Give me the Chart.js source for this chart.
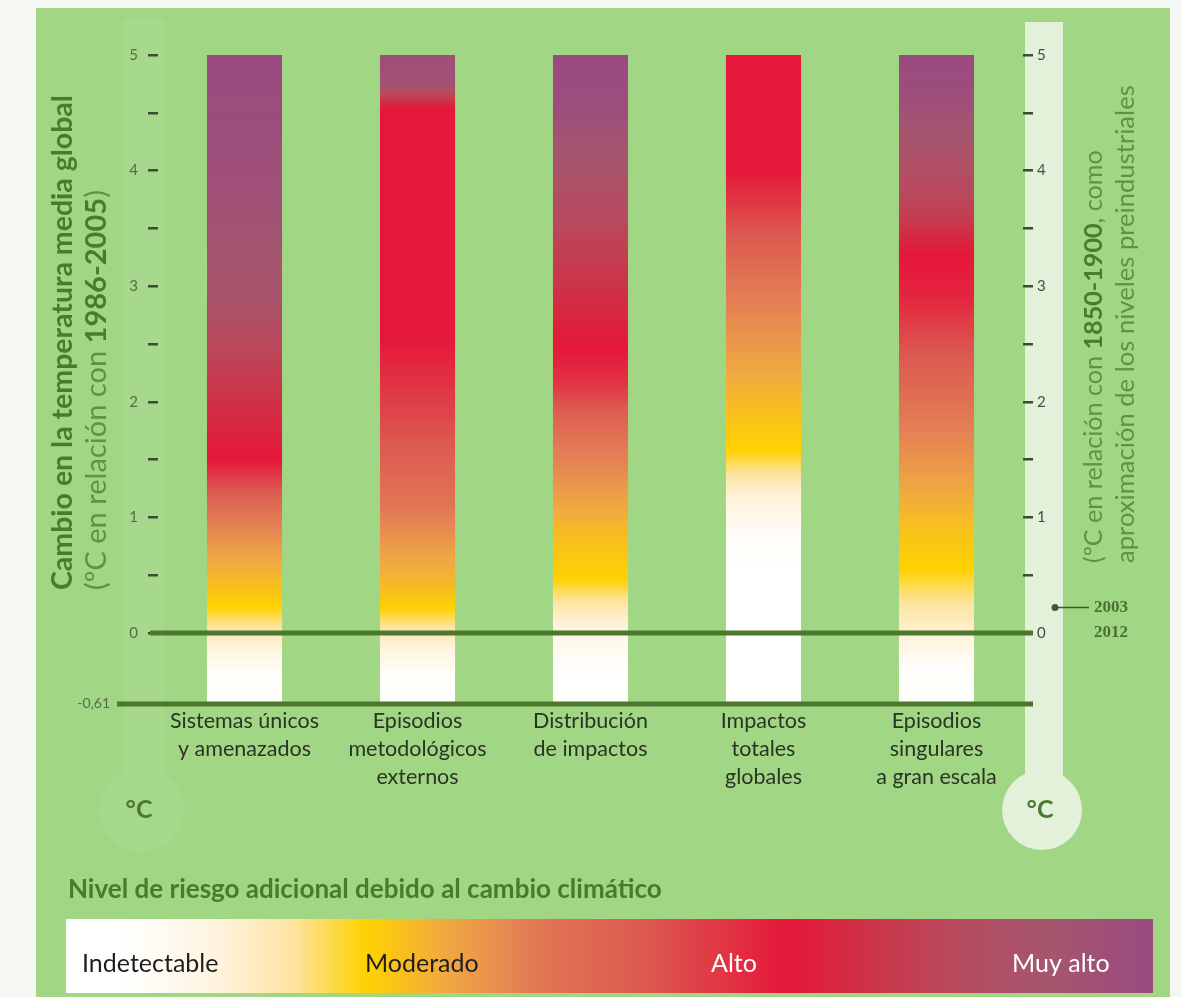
<!DOCTYPE html>
<html><head><meta charset="utf-8">
<script src="https://cdn.jsdelivr.net/npm/chart.js@4.4.0/dist/chart.umd.min.js"></script>
<style>html,body{margin:0;padding:0;background:#f5f7f2;}canvas{display:block;}</style>
</head><body>
<canvas id="c" width="1182" height="997"></canvas>
<script>
// ---------- data ----------
const categories = [
  ['Sistemas únicos', 'y amenazados'],
  ['Episodios', 'metodológicos', 'externos'],
  ['Distribución', 'de impactos'],
  ['Impactos', 'totales', 'globales'],
  ['Episodios', 'singulares', 'a gran escala']
];
const barBottom = [-0.61, -0.61, -0.61, -0.61, -0.61];
const barTop = [5, 5, 5, 5, 5];
const yTickValues = [0, 0.5, 1, 1.5, 2, 2.5, 3, 3.5, 4, 4.5, 5];
const referenceLines = [0, -0.61];
const referenceLabel = '-0,61';
const observedYears = ['2003', '2012'];
const observedValue = 0.22;
const riskLevelNames = ['Indetectable', 'Moderado', 'Alto', 'Muy alto'];
// risk level (0 indetectable .. 3 muy alto) at temperature change (°C)
const riskSistemas = [[-0.61,0],[-0.35,0.05],[0,0.6],[0.22,1],[0.69,1.3],[1.06,1.6],[1.5,2],[2.17,2.3],[2.9,2.7],[4.0,2.9],[5,3]];
const riskMetodologicos = [[-0.61,0],[-0.35,0.05],[0,0.6],[0.21,1],[0.4,1.15],[0.69,1.3],[1.06,1.55],[1.62,1.75],[2.17,1.9],[2.54,2],[4.54,2],[4.76,2.85],[5,2.9]];
const riskDistribucion = [[-0.61,0],[-0.3,0.02],[0,0.3],[0.21,0.6],[0.47,1],[0.88,1.15],[1.25,1.35],[1.8,1.65],[2.17,1.9],[2.47,2],[2.91,2.2],[3.47,2.45],[4.02,2.7],[4.6,2.95],[5,3]];
const riskTotales = [[-0.61,0],[0.51,0],[0.88,0.1],[1.25,0.5],[1.58,1],[1.99,1.15],[2.36,1.3],[2.62,1.4],[3.1,1.6],[3.65,1.85],[4.0,2],[5,2]];
const riskSingulares = [[-0.61,0],[-0.3,0.05],[0,0.45],[0.21,0.65],[0.55,1],[0.88,1.1],[1.43,1.35],[1.99,1.6],[2.54,1.8],[2.91,1.95],[3.28,2],[3.65,2.4],[4.2,2.7],[4.76,2.95],[5,3]];
const riskProfiles = [riskSistemas, riskMetodologicos, riskDistribucion, riskTotales, riskSingulares];
// legend: fraction along bar -> risk level
const legendRamp = [[0,0],[0.06,0.02],[0.275,1],[0.45,1.6],[0.665,2],[0.85,2.6],[1,3]];

// ---------- styling ----------
const FONT = 'Lato, "Open Sans", sans-serif';
const DARKGREEN = '#4a7a2b';
const palette = [[0,'#ffffff'],[0.4,'#fef3dc'],[0.7,'#fde3a0'],[1,'#ffd200'],[1.25,'#f0aa40'],[1.5,'#e48055'],[1.75,'#dc5a50'],[2,'#e5173a'],[2.25,'#cc3448'],[2.5,'#b84a5e'],[2.75,'#a5566e'],[3,'#9a4a80']];

function hex(h){return [parseInt(h.slice(1,3),16),parseInt(h.slice(3,5),16),parseInt(h.slice(5,7),16)];}
function interp(pairs, x){
  if (x <= pairs[0][0]) return pairs[0][1];
  for (let i=1;i<pairs.length;i++){
    if (x <= pairs[i][0]){const [x0,y0]=pairs[i-1],[x1,y1]=pairs[i];return y0+(y1-y0)*(x-x0)/(x1-x0);}
  }
  return pairs[pairs.length-1][1];
}
function riskColor(l){
  for (let i=1;i<palette.length;i++){
    if (l <= palette[i][0] || i===palette.length-1){
      const a=hex(palette[i-1][1]), b=hex(palette[i][1]);
      const t=Math.max(0,Math.min(1,(l-palette[i-1][0])/(palette[i][0]-palette[i-1][0])));
      return 'rgb('+a.map((v,k)=>Math.round(v+(b[k]-v)*t)).join(',')+')';
    }
  }
}

function barGradient(ctx){
  const chart = ctx.chart;
  if (!chart.chartArea) return '#ffffff';
  const y = chart.scales.y;
  const i = ctx.dataIndex;
  const lo = barBottom[i], hi = barTop[i];
  const pLo = y.getPixelForValue(lo), pHi = y.getPixelForValue(hi);
  const g = chart.ctx.createLinearGradient(0, pLo, 0, pHi);
  const prof = riskProfiles[i];
  const n = 120;
  for (let k=0;k<=n;k++){
    const t = lo + (hi-lo)*k/n;
    g.addColorStop(k/n, riskColor(interp(prof, t)));
  }
  return g;
}

function drawRich(ctx, x, y, segs, size, rotate){
  ctx.save();
  ctx.translate(x, y);
  if (rotate) ctx.rotate(-Math.PI/2);
  ctx.textAlign = 'left'; ctx.textBaseline = 'middle';
  let cx = 0;
  for (const s of segs){
    ctx.font = (s.bold?'bold ':'') + size + 'px ' + FONT;
    ctx.fillStyle = s.color;
    ctx.fillText(s.text, cx, 0);
    cx += ctx.measureText(s.text).width;
  }
  ctx.restore();
}
function fitSize(ctx, segs, target, base){
  let w = 0;
  for (const s of segs){ctx.font=(s.bold?'bold ':'')+base+'px '+FONT; w+=ctx.measureText(s.text).width;}
  return base*target/w;
}

const decorations = {
  id: 'decorations',
  beforeDraw(chart){
    const c = chart.ctx;
    c.save();
    c.fillStyle = '#f5f7f2'; c.fillRect(0,0,1182,997);
    c.fillStyle = '#a1d784'; c.fillRect(36,8,1134,989);
    // left thermometer (faint)
    c.beginPath();
    c.rect(123,20,42,760);
    c.moveTo(184,810); c.arc(142,810,42,0,Math.PI*2);
    c.fillStyle = 'rgba(255,255,255,0.07)'; c.fill('nonzero');
    // right thermometer
    c.beginPath();
    c.rect(1025,22,38,770);
    c.moveTo(1082,810); c.arc(1042,810,40,0,Math.PI*2);
    c.fillStyle = '#e3f0da'; c.fill('nonzero');
    c.font = 'bold 25px ' + FONT; c.fillStyle = DARKGREEN; c.textAlign='center'; c.textBaseline='middle';
    c.fillText('°C', 139, 810);
    c.fillText('°C', 1040, 810);
    c.restore();
  },
  afterDraw(chart){
    const c = chart.ctx, y = chart.scales.y, y2 = chart.scales.y2;
    c.save();
    // reference lines
    c.strokeStyle = '#4b782c'; c.lineWidth = 5; c.lineCap='butt';
    referenceLines.forEach((v, k) => {
      const py = Math.round(y.getPixelForValue(v));
      c.beginPath(); c.moveTo(k===0?150:117, py); c.lineTo(1033, py); c.stroke();
    });
    c.font = '14px ' + FONT; c.fillStyle = '#556b4a'; c.textAlign='right'; c.textBaseline='middle';
    c.fillText(referenceLabel, 110, y.getPixelForValue(referenceLines[1]));
    // observed 2003-2012
    const oy = y2.getPixelForValue(observedValue);
    c.fillStyle = '#3f5a2e'; c.strokeStyle = '#3f5a2e'; c.lineWidth = 1.5;
    c.beginPath(); c.arc(1055, oy, 3.5, 0, Math.PI*2); c.fill();
    c.beginPath(); c.moveTo(1055, oy); c.lineTo(1089, oy); c.stroke();
    c.font = 'bold 17px "Liberation Serif", serif'; c.fillStyle = '#4a7030'; c.textAlign='left';
    c.fillText(observedYears[0], 1094, oy);
    c.fillText(observedYears[1], 1094, y2.getPixelForValue(0));
    // axis titles
    const g1 = '#4a7d2a', g2 = '#5e9342';
    const L1 = [{text:'Cambio en la temperatura media global', bold:true, color:g1}];
    const L2 = [{text:'(ºC en relación con ', color:g2},{text:'1986-2005', bold:true, color:g1},{text:')', color:g2}];
    const R1 = [{text:'(ºC en relación con ', color:g2},{text:'1850-1900', bold:true, color:g1},{text:', como', color:g2}];
    const R2 = [{text:'aproximación de los niveles preindustriales', color:g2}];
    drawRich(c, 63, 590, L1, fitSize(c, L1, 495, 20), true);
    drawRich(c, 97, 590, L2, fitSize(c, L2, 400, 20), true);
    drawRich(c, 1094, 563, R1, fitSize(c, R1, 413, 20), true);
    drawRich(c, 1126, 563, R2, fitSize(c, R2, 478, 20), true);
    // legend
    const LT = [{text:'Nivel de riesgo adicional debido al cambio climático', bold:true, color:'#4a7a2b'}];
    drawRich(c, 68, 890, LT, fitSize(c, LT, 594, 20), false);
    const lx0 = 66, lx1 = 1153, ly0 = 919, ly1 = 993;
    const lg = c.createLinearGradient(lx0, 0, lx1, 0);
    for (let k=0;k<=100;k++){ lg.addColorStop(k/100, riskColor(interp(legendRamp, k/100))); }
    c.fillStyle = lg; c.fillRect(lx0, ly0, lx1-lx0, ly1-ly0);
    const lpos = [82, 365, 711, 1012];
    const lcol = ['#1e1e1e', '#1e1e1e', '#ffffff', '#ffffff'];
    c.font = '25px ' + FONT; c.textAlign='left'; c.textBaseline='middle';
    riskLevelNames.forEach((n,k)=>{ c.fillStyle = lcol[k]; c.fillText(n, lpos[k], 964); });
    c.restore();
  }
};

const yCommon = {
  min: -0.61, max: 5,
  afterBuildTicks: s => { s.ticks = yTickValues.map(v => ({value: v})); },
  grid: {drawOnChartArea: false, tickLength: 10, lineWidth: 2.5, color: '#3d4d35'},
  border: {display: false}
};

new Chart(document.getElementById('c'), {
  type: 'bar',
  data: {
    labels: categories,
    datasets: [{
      data: barBottom.map((b, i) => [b, barTop[i]]),
      backgroundColor: barGradient,
      borderWidth: 0,
      barPercentage: 0.434,
      categoryPercentage: 1
    }]
  },
  options: {
    responsive: false, animation: false, devicePixelRatio: 1,
    layout: {padding: {top: 55, left: 0, right: 0, bottom: 0}},
    plugins: {legend: {display: false}, tooltip: {enabled: false}},
    scales: {
      x: {
        grid: {display: false, drawTicks: false}, border: {display: false},
        ticks: {color: '#2a3325', font: {family: FONT, size: 21.5, lineHeight: '28px'}, padding: 4, maxRotation: 0, autoSkip: false},
        afterFit: s => { s.height = 997 - 703.5; }
      },
      y: Object.assign({}, yCommon, {
        position: 'left',
        ticks: {callback: v => Number.isInteger(v) ? String(v) : '', color: '#556b4a', font: {family: FONT, size: 15}, padding: 10},
        afterFit: s => { s.width = 158; }
      }),
      y2: Object.assign({}, yCommon, {
        position: 'right',
        ticks: {callback: v => Number.isInteger(v) ? String(v) : '', color: '#3f4f44', font: {family: FONT, size: 15}, padding: 4},
        afterFit: s => { s.width = 1182 - 1023; }
      })
    }
  },
  plugins: [decorations]
});
</script>
</body></html>
